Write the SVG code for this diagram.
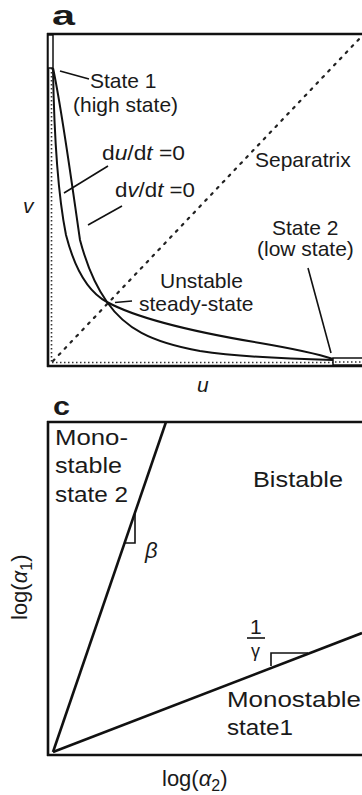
<svg xmlns="http://www.w3.org/2000/svg" width="362" height="795" viewBox="0 0 362 795">
<defs>
<style>
text{font-family:"Liberation Sans",Arial,Helvetica,sans-serif;fill:#1a1a1a;}
.la{font-size:21px;}
.lc{font-size:22px;}
.it{font-style:italic;}
.pl{font-weight:bold;}
.ax{stroke:#111;stroke-width:2.6;fill:none;}
.dot{stroke:#333;stroke-width:1.6;stroke-dasharray:1.5 2.5;fill:none;}
.cur{stroke:#111;stroke-width:2;fill:none;}
.ld{stroke:#111;stroke-width:1.6;fill:none;}
.sep{stroke:#222;stroke-width:2.2;stroke-dasharray:2 6.5;stroke-linecap:round;fill:none;}
.ln{stroke:#111;stroke-width:2.6;fill:none;}
</style>
</defs>
<rect width="362" height="795" fill="#fff"/>

<g id="panel-a">
  <text class="pl" x="52" y="25" font-size="27" textLength="23" lengthAdjust="spacingAndGlyphs">a</text>
  <g id="frame-a">
    <line class="ax" x1="47" y1="34" x2="362" y2="34"/>
    <line class="ax" x1="48" y1="33" x2="48" y2="367"/>
    <line class="ax" x1="47" y1="366" x2="362" y2="366"/>
    <line class="dot" x1="51.5" y1="68" x2="51.5" y2="362"/>
    <line class="dot" x1="52" y1="362.5" x2="333" y2="362.5"/>
  </g>
  <g id="state1-marker">
    <rect x="48" y="35" width="5" height="33" fill="#fff" stroke="#111" stroke-width="1.5"/>
  </g>
  <g id="state2-marker">
    <rect x="333" y="358" width="30" height="7" fill="#fff" stroke="#111" stroke-width="1.5"/>
    <line class="dot" x1="335" y1="362" x2="362" y2="362"/>
  </g>
  <g id="separatrix">
    <line class="sep" x1="53" y1="361" x2="361" y2="37"/>
  </g>
  <g id="nullcline-du">
    <path class="cur" d="M53,68 C54,130 57,190 66,235 C75,270 88,292 107,302 C140,320 200,333 260,343 C295,349 318,354 333,359"/>
  </g>
  <g id="nullcline-dv">
    <path class="cur" d="M53,68 C62,110 72,185 80,240 C88,270 97,288 107,302 C125,328 150,342 200,351 C240,357 290,359 333,360"/>
  </g>
  <g id="leaders-a">
    <line class="ld" x1="60" y1="71" x2="89" y2="79"/>
    <line class="ld" x1="64" y1="193" x2="108" y2="166"/>
    <line class="ld" x1="88" y1="225" x2="122" y2="206"/>
    <line class="ld" x1="115" y1="302.5" x2="132" y2="301"/>
    <line class="ld" x1="308" y1="268" x2="331" y2="353"/>
  </g>
  <g id="labels-a">
    <text class="la" x="90" y="88">State 1</text>
    <text class="la" x="73" y="112">(high state)</text>
    <text class="la" x="102" y="160" textLength="83" lengthAdjust="spacingAndGlyphs">d<tspan class="it">u</tspan>/d<tspan class="it">t</tspan> =0</text>
    <text class="la" x="115" y="197" textLength="80" lengthAdjust="spacingAndGlyphs">d<tspan class="it">v</tspan>/d<tspan class="it">t</tspan> =0</text>
    <text class="la" x="255" y="167">Separatrix</text>
    <text class="la it" x="23" y="213">v</text>
    <text class="la" x="272" y="235">State 2</text>
    <text class="la" x="257" y="256">(low state)</text>
    <text class="la" x="160" y="288">Unstable</text>
    <text class="la" x="139" y="311">steady-state</text>
    <text class="la it" x="197" y="392">u</text>
  </g>
</g>

<g id="panel-c">
  <text class="pl" x="53" y="415" font-size="25" textLength="17" lengthAdjust="spacingAndGlyphs">c</text>
  <g id="frame-c">
    <line class="ax" x1="47" y1="422" x2="362" y2="422"/>
    <line class="ax" x1="48" y1="421" x2="48" y2="756"/>
    <line class="ax" x1="47" y1="755" x2="362" y2="755"/>
  </g>
  <g id="boundary-beta">
    <line class="ln" x1="53" y1="752" x2="166" y2="422"/>
    <polyline class="ld" points="135,511 135,543 125,543"/>
  </g>
  <g id="boundary-gamma">
    <line class="ln" x1="53" y1="752" x2="362" y2="633"/>
    <polyline class="ld" points="271,666 271,653 308,653"/>
  </g>
  <g id="labels-c">
    <text class="lc" x="55" y="445" textLength="73" lengthAdjust="spacingAndGlyphs">Mono-</text>
    <text class="lc" x="55" y="473" textLength="67" lengthAdjust="spacingAndGlyphs">stable</text>
    <text class="lc" x="55" y="502" textLength="73" lengthAdjust="spacingAndGlyphs">state 2</text>
    <text class="lc" x="253" y="487" textLength="90" lengthAdjust="spacingAndGlyphs">Bistable</text>
    <text class="lc it" x="145" y="558">β</text>
    <text x="250" y="634" font-size="21">1</text>
    <line class="ld" x1="247" y1="638" x2="265" y2="638"/>
    <text x="251" y="657" font-size="18">γ</text>
    <text class="lc" x="227" y="707" textLength="134" lengthAdjust="spacingAndGlyphs">Monostable</text>
    <text class="lc" x="227" y="735" textLength="66" lengthAdjust="spacingAndGlyphs">state1</text>
    <text class="lc" x="162" y="786">log(<tspan class="it">α</tspan><tspan dy="5" font-size="16">2</tspan><tspan dy="-5">)</tspan></text>
    <text class="lc" transform="translate(27,620) rotate(-90)">log(<tspan class="it">α</tspan><tspan dy="5" font-size="16">1</tspan><tspan dy="-5">)</tspan></text>
  </g>
</g>
</svg>
